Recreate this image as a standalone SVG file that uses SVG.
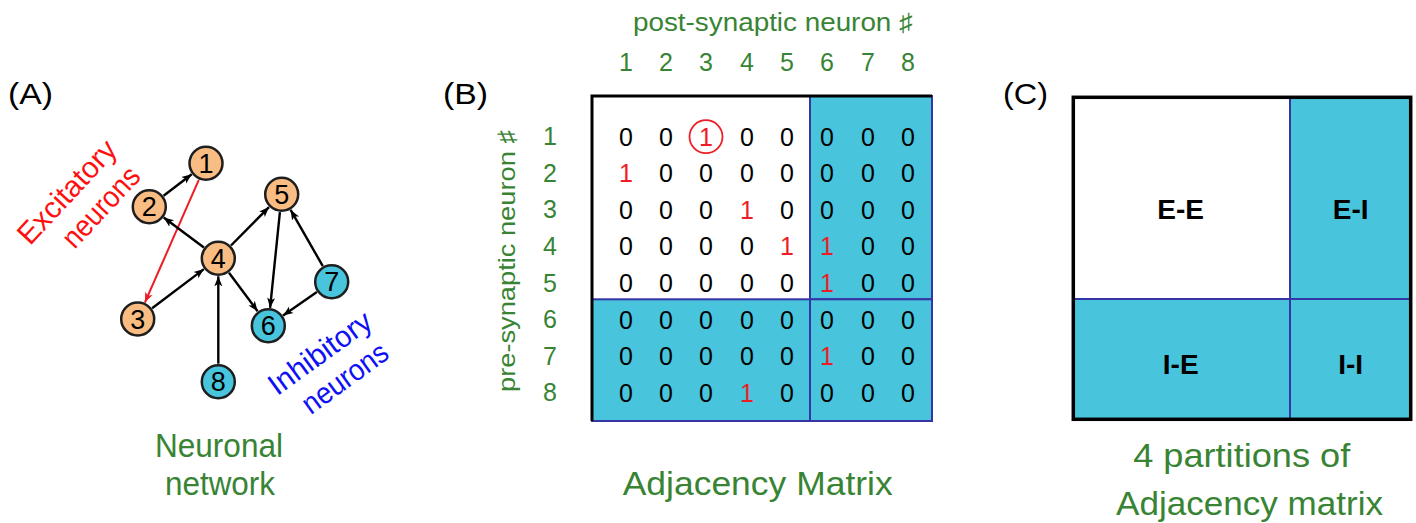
<svg xmlns="http://www.w3.org/2000/svg" width="1416" height="523" viewBox="0 0 1416 523">
<style>
text{font-family:"Liberation Sans",Arial,"DejaVu Sans",sans-serif;}
.lbl{font-size:30px;fill:#000;}
.g{fill:#388434;}
.cap{font-size:33px;text-anchor:middle;}
.ax{font-size:25px;text-anchor:middle;}
.m{font-size:25px;text-anchor:middle;fill:#000;}
.r{fill:#ee1c25;}
.node circle{stroke:#1e1e1e;stroke-width:2.5;}
.node text{font-size:27px;text-anchor:middle;fill:#000;}
.exc circle{fill:#f9bc82;}
.inh circle{fill:#48c4dc;}
.edge{stroke:#000;stroke-width:2.4;fill:none;marker-end:url(#ah);}
.edge.red{stroke:#ee1c25;stroke-width:2;marker-end:url(#ahr);}
.cy{fill:#48c4dc;stroke:#3535a5;stroke-width:2;}
.part{font-size:28px;font-weight:bold;text-anchor:middle;fill:#000;}
</style>
<defs>
<marker id="ah" viewBox="0 -5 10 10" refX="10" refY="0" markerWidth="10" markerHeight="10" markerUnits="userSpaceOnUse" orient="auto">
<path d="M0,-4 L10,0 L0,4 L2.5,0 Z" fill="#000"/>
</marker>
<marker id="ahr" viewBox="0 -5 10 10" refX="10" refY="0" markerWidth="10" markerHeight="10" markerUnits="userSpaceOnUse" orient="auto">
<path d="M0,-4 L10,0 L0,4 L2.5,0 Z" fill="#ee1c25"/>
</marker>
</defs>
<rect width="1416" height="523" fill="#fff"/>

<!-- Panel A -->
<text class="lbl" x="8" y="104" textLength="45" lengthAdjust="spacingAndGlyphs">(A)</text>

<g id="connectors">
<line class="edge" x1="163.6" y1="195.8" x2="191.7" y2="174.2"/>
<line class="edge red" x1="198.8" y1="179.8" x2="144.9" y2="302.5"/>
<line class="edge" x1="203.9" y1="247.5" x2="163.7" y2="217.5"/>
<line class="edge" x1="231" y1="245.5" x2="269" y2="207.1"/>
<line class="edge" x1="152.1" y1="308.2" x2="203.9" y2="269.1"/>
<line class="edge" x1="218.3" y1="363.7" x2="218.3" y2="276.3"/>
<line class="edge" x1="229" y1="272.8" x2="257.6" y2="311.2"/>
<line class="edge" x1="279.9" y1="212.2" x2="270.1" y2="307.8"/>
<line class="edge" x1="322.8" y1="266.1" x2="290.6" y2="209.9"/>
<line class="edge" x1="316.9" y1="292" x2="283.1" y2="315.4"/>
</g>

<g id="n1" class="node exc"><circle cx="206" cy="163.3" r="16.5"/><text x="206" y="173">1</text></g>
<g id="n2" class="node exc"><circle cx="149.3" cy="206.7" r="16.5"/><text x="149.3" y="216.4">2</text></g>
<g id="n3" class="node exc"><circle cx="137.7" cy="319" r="16.5"/><text x="137.7" y="328.7">3</text></g>
<g id="n4" class="node exc"><circle cx="218.3" cy="258.3" r="16.5"/><text x="218.3" y="268">4</text></g>
<g id="n5" class="node exc"><circle cx="281.7" cy="194.3" r="16.5"/><text x="281.7" y="204">5</text></g>
<g id="n6" class="node inh"><circle cx="268.3" cy="325.7" r="16.5"/><text x="268.3" y="335.4">6</text></g>
<g id="n7" class="node inh"><circle cx="331.7" cy="281.7" r="16.5"/><text x="331.7" y="291.4">7</text></g>
<g id="n8" class="node inh"><circle cx="218.3" cy="381.7" r="16.5"/><text x="218.3" y="391.4">8</text></g>

<g fill="#ff0f0f" font-size="30" text-anchor="middle">
<text transform="translate(67,192) rotate(-47)" x="0" y="10" textLength="130" lengthAdjust="spacingAndGlyphs">Excitatory</text>
<text transform="translate(101,207) rotate(-47)" x="0" y="10" textLength="99" lengthAdjust="spacingAndGlyphs">neurons</text>
</g>
<g fill="#1010f5" font-size="30" text-anchor="middle">
<text transform="translate(320,353) rotate(-36)" x="0" y="10" textLength="120" lengthAdjust="spacingAndGlyphs">Inhibitory</text>
<text transform="translate(345,378) rotate(-36)" x="0" y="10" textLength="99" lengthAdjust="spacingAndGlyphs">neurons</text>
</g>

<text class="g cap" x="219" y="457" textLength="128" lengthAdjust="spacingAndGlyphs">Neuronal</text>
<text class="g cap" x="220" y="495" textLength="110" lengthAdjust="spacingAndGlyphs">network</text>

<!-- Panel B -->
<text class="lbl" x="443" y="104" textLength="45" lengthAdjust="spacingAndGlyphs">(B)</text>
<text class="g" x="633" y="31" font-size="25" textLength="280" lengthAdjust="spacingAndGlyphs">post-synaptic neuron ♯</text>
<text class="g ax" x="626 666 706 747 787 827 868 908" y="71">12345678</text>
<text class="g" transform="translate(514.5,392) rotate(-90)" x="0" y="0" font-size="24" textLength="262" lengthAdjust="spacingAndGlyphs">pre-synaptic neuron ♯</text>
<text class="g ax" x="550 550 550 550 550 550 550 550" y="145.2 181.8 218.4 255 291.6 328.2 364.8 401.4">12345678</text>

<g id="matrix">
<rect x="592" y="96" width="218" height="203.3" fill="#fff"/>
<rect class="cy" x="810" y="96" width="122" height="203.3"/>
<rect class="cy" x="592" y="299.3" width="218" height="121.7"/>
<rect class="cy" x="810" y="299.3" width="122" height="121.7"/>
<polyline points="592,421 592,96 932,96" fill="none" stroke="#000" stroke-width="3"/>
<circle cx="706" cy="136.7" r="16.5" fill="none" stroke="#ee1c25" stroke-width="1.8"/>
<text class="m" x="626 666 706 747 787 827 868 908" y="145.6">00<tspan class="r">1</tspan>00000</text>
<text class="m" x="626 666 706 747 787 827 868 908" y="182.2"><tspan class="r">1</tspan>0000000</text>
<text class="m" x="626 666 706 747 787 827 868 908" y="218.8">000<tspan class="r">1</tspan>0000</text>
<text class="m" x="626 666 706 747 787 827 868 908" y="255.4">0000<tspan class="r">11</tspan>00</text>
<text class="m" x="626 666 706 747 787 827 868 908" y="292">00000<tspan class="r">1</tspan>00</text>
<text class="m" x="626 666 706 747 787 827 868 908" y="328.6">00000000</text>
<text class="m" x="626 666 706 747 787 827 868 908" y="365.2">00000<tspan class="r">1</tspan>00</text>
<text class="m" x="626 666 706 747 787 827 868 908" y="401.8">000<tspan class="r">1</tspan>0000</text>
</g>
<text class="g cap" x="757.7" y="495" textLength="270" lengthAdjust="spacingAndGlyphs">Adjacency Matrix</text>

<!-- Panel C -->
<text class="lbl" x="1003" y="104" textLength="45" lengthAdjust="spacingAndGlyphs">(C)</text>
<g id="partitions">
<rect x="1073.3" y="97.3" width="216.7" height="201.7" fill="#fff"/>
<rect x="1290" y="97.3" width="120.7" height="201.7" fill="#48c4dc"/>
<rect x="1073.3" y="299" width="337.4" height="120.3" fill="#48c4dc"/>
<line x1="1290" y1="97.3" x2="1290" y2="419.3" stroke="#3535a5" stroke-width="2"/>
<line x1="1073.3" y1="299" x2="1410.7" y2="299" stroke="#3535a5" stroke-width="2"/>
<rect x="1073.3" y="97.3" width="337.4" height="322" fill="none" stroke="#000" stroke-width="3.5"/>
<text class="part" x="1180.7" y="219">E-E</text>
<text class="part" x="1350.7" y="219">E-I</text>
<text class="part" x="1180.7" y="374">I-E</text>
<text class="part" x="1350.7" y="374">I-I</text>
</g>
<text class="g cap" x="1241.7" y="467" textLength="217" lengthAdjust="spacingAndGlyphs">4 partitions of</text>
<text class="g cap" x="1249.5" y="515" textLength="267" lengthAdjust="spacingAndGlyphs">Adjacency matrix</text>
</svg>
